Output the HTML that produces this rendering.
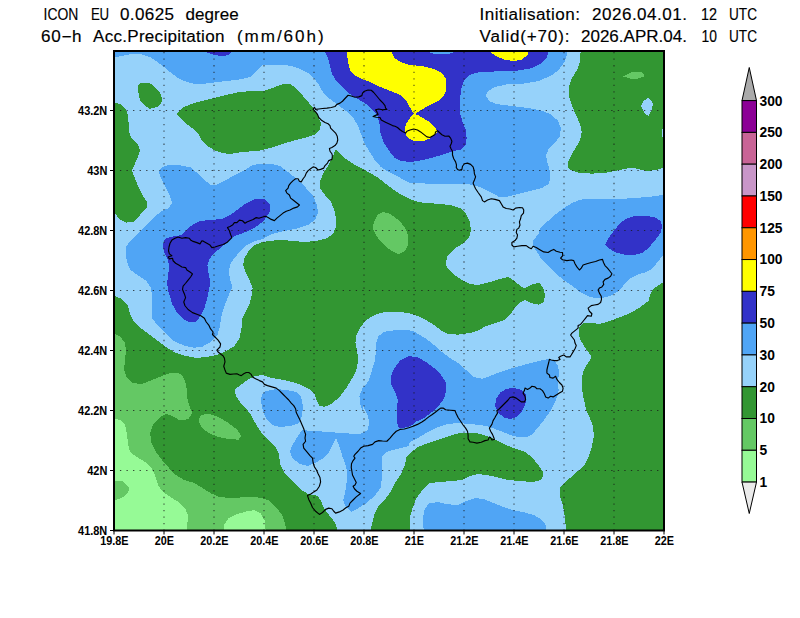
<!DOCTYPE html>
<html><head><meta charset="utf-8"><title>ICON EU precipitation</title>
<style>
html,body{margin:0;padding:0;background:#fff;}
body{width:800px;height:618px;overflow:hidden;font-family:"Liberation Sans",sans-serif;}
svg{display:block;}
text{font-family:"Liberation Sans",sans-serif;fill:#000;}
.t{font-size:15.8px;stroke:#000;stroke-width:0.15px;}
.a{font-size:12.4px;font-weight:bold;}
.c{font-size:13.8px;font-weight:bold;}
</style></head><body>
<svg width="800" height="618" viewBox="0 0 800 618">
<rect width="800" height="618" fill="#fff"/>
<defs><clipPath id="pc"><rect x="114" y="51" width="550" height="479.5"/></clipPath></defs>
<g clip-path="url(#pc)">
<rect x="110" y="45" width="560" height="490" fill="#96d2fa"/>
<g shape-rendering="crispEdges">
<polygon fill="#329632" points="138,86 140,83 149,82.7 155,87 160,93 162.6,99 161,103 157,107 150,108.8 145,106 140,100 138.5,93"/>
<polygon fill="#329632" points="110,102.6 115,102.6 120,104 125,108 127.7,114 128.5,122 129,132 132,139 138,145 140,150 138,157 135,163.5 132,170 134,176 138,186 143,196 147,202 146.5,208 140,215 133,222 126,222.6 119,219 115,213 110,213"/>
<polygon fill="#329632" points="176,114 184,107 194,103 206,100 218.4,97 230.5,94 240.5,91.8 254.6,91 262,91.5 270,89 280,85 286,83.7 291,84.5 297,89 303,96 309,103 314,109 318,116 321,123 320,129 316,134 308,137 296,140 284,143.4 272,147.4 260,150.5 254.6,151 242.5,152 230,154 222,153 214,150 206,145 201,139 198,133 192,128 184,122"/>
<polygon fill="#329632" points="336,149.4 344,157.5 354,164.5 360,167.5 368.4,172 378.5,178 388.5,186 398.5,193 408.6,198.5 416,201.3 422,202.5 436,203.7 450,205 460,208 466,214 469.8,222 471,230 469,238 462,244 454,249 448,255 445.7,262 447,268 453,274 462,280 470,284 478,285 490,282 500,279 508.4,277 514.4,281 520.4,286 524.5,288.5 532.5,284 539.5,283 542.5,287 544,290 545,296 543.5,302 538.5,304.5 530.5,303 524.5,300 519.4,303 514,309 510,315 504,320 496,323 486,326 478,330.6 470,333 458,334.6 448,334 442,331 434,325 426,320 418,316 408.6,313 396.5,311.7 384.5,312 374.5,315 366.4,320 360.4,327 356.4,335 355.4,343 357.4,352 358,362 356.4,370 352.4,378 346.3,388 340.3,396 332.3,403.5 324.3,407 319.2,405.5 316.2,399.5 314.2,393.4 308.2,388.4 300.2,384.4 290,381.4 280,379.4 270,377.5 262.6,375 254.6,376 248.6,379 240.5,385 234.5,390 236.5,397 241.5,404 246,408.5 250.6,414 254.6,422 259.6,430 264,436 268,440 275,446 279,454 280,464 284,472 292,481 300,489 308,494 318,496 321,501 324,508 329,515 335,522.5 339,535 110,535 110,296 115,296 122,299 128,306 130,314 134,322 142,329 150,335 158,341 166,347 176,353 186,356 196.3,358 206.4,357 216.4,355 226.5,351 234.5,346 239.5,338 241.5,328 241.5,320 245.5,312 249.6,304 251.6,296 252.6,288 249.6,280.5 245.5,272 243,265 244.5,258 248.6,251 254.6,245 262.6,242 270,241 278,240 292,240.7 304,242 316,241 326,238.7 333,234 336,227 336,218 334,209 331,202 325,195 320,188 320,181 324,172 328,166"/>
<polygon fill="#329632" points="581,45 580,62 577,70 572,78 569,86 569,96 572,106 576,115 580,124 581.8,132 580,140 576,147.4 571,155.4 568,162.5 567.7,167 570,170 580,173 592,173.6 604,173 614,171 624,169 632,167.6 640,169.6 648,171 656,170 670,166 670,45"/>
<polygon fill="#329632" points="670,281 663,282.5 656.5,286.5 652.4,290 650.4,294 648.4,301 640.4,307 630.4,313 620.3,317 610,321 600,323.8 590,323 583,323 579,327 578.5,334 581,341 586,349 591.8,357 588,363 583.8,370 581.8,378 581.8,386 583,396 585,404.5 586,410 589,416 593,426 593.8,436 592,446 589,456 585,464 578,471 570,478 564,483 560,488 560,496 563,506 565,518 566.5,535 670,535"/>
<polygon fill="#329632" points="369.4,535 372.4,522 374.5,514 378.5,506 384.5,500 390.5,492 394.5,484 400.5,475 404.6,466 406.6,457 412.6,451 418,447 428,443 440,439 452,435 462,432.5 474,432.5 486,435.7 496,440 506,445 516,449 525.5,452 532.5,458 538.5,465 542.5,471 543.5,476 540.5,480 532.5,482 520.4,481 508.4,480 496.3,477 486.3,475 478.3,474 470,476 462,480 452,481 440,482 430,483 426,486 421,492 416,499 412.6,508 409.6,518 409.6,535"/>
<polygon fill="#96d2fa" points="648.4,97.8 652.8,103 652,110 648.4,116 644.4,113 641,106 643.4,101"/>
<polygon fill="#96d2fa" points="661.5,129 666,129 666,137 661.5,137"/>
<polygon fill="#64c864" points="374.5,221 377.5,215 382.5,212 390.5,214 398.5,220 404.6,227 408.2,235.3 408.2,244.3 404.6,251.3 398.5,254.4 390.5,250.3 382.5,243.3 376.5,236.3 372.4,228.2"/>
<polygon fill="#64c864" points="623.3,76.5 632.4,72 641.4,72 644.8,76 638.4,78.5 630.4,78.5"/>
<polygon fill="#64c864" points="198.4,420 201.4,415 208.4,413.6 218.4,417 228.5,423 236.5,429 241.5,436 238.5,439.7 228.5,439 218.4,437 208.4,433 201.4,427"/>
<polygon fill="#64c864" points="110,334 115,334 120,336.6 124.5,342 126,350 125,360 124,370 127,378 132,383 142,384 152,380 162,376 167.75,373.9 172.75,372.75 179,373.1 182.75,376.25 185.25,381.25 186.5,387.5 187.1,397 189,404.5 191,410 192.3,413 188.3,419 180.3,420.5 172.2,416 166.2,413.6 160.2,417 153.2,424 150.2,433 151.2,442 155.2,451 161.2,459 167.2,466 174.3,474 184.3,480 194.3,483 202.4,488 210.4,493 218.4,496.8 230.5,498 242.5,497.4 254.6,496.8 262.6,498.4 268,500 276,507 282,515 285,523 287,535 110,535"/>
<polygon fill="#96fa96" points="110,418.4 115,418.4 120,420 125,425 127,434 128,444 130,452 137,457 145,462 151,467 155,475 158,485 163,492 171,497.4 179,502.4 185,508.4 188.3,515.4 187.3,523.5 187.3,535 110,535"/>
<polygon fill="#64c864" points="110,481 115,481 122,480.7 127,485 129.7,489 126,495 120,498.8 115,500 110,500"/>
<polygon fill="#96fa96" points="223.5,535 224.5,524.5 228.5,518.4 236.5,514.4 246.5,511.4 254.6,510 260.6,513.4 264.6,520.5 266.2,535"/>
<polygon fill="#50a5f5" points="110,45 567.6,45 567.6,52 564.6,62 558.6,70 550.5,76 538.5,81 522.4,83.7 506.4,84.5 494.3,87 487.3,91.8 486,96 489.3,101 496.3,104 510.4,105.8 526.5,107.8 540.5,110.2 550.5,114.3 557.6,120.3 561,128.3 559.6,136.4 554.6,143.4 548.5,149.4 546,155.4 547.5,162.5 549.5,170 550.5,178 548.5,184 542.5,187.7 530.5,191 518.4,194 506.4,197 498.4,196.5 490,192 480,187 470,184.5 450,183.7 430,183.7 410,183 400.5,178 388.5,172 380.5,166.5 374.5,159.5 369,151 364,142 361,134 358,126 354,119 346,111 338,105 330,99 324,94 319,85 314,78 308,73 300,69 292,66 284,65 272,64.5 262,65.5 256.6,71 250.5,77 238.5,79.7 226.5,81 214.4,82.5 204.4,83.7 194,83.7 186,81.7 178,78 170,72 164,67 156,61 150,57 142,54.4 130,54.4 122,56 110,58"/>
<polygon fill="#50a5f5" points="159,172 162,167 168,165 178,165 186,166.5 190,167 196,172 204.4,180 210.4,184.5 216.4,185 224.5,181 234.5,175 246.5,169 252,165.5 260,163.5 270,163.5 280,166 288,172 298,180 306,188 313,196 317,205 318,213 315,220 308,225 296,228.7 284,231 272,234 262.6,239 254.6,241 246.5,245 240.5,251 234.5,258 230.5,264 228.5,272 230.5,280.5 232.5,288 230.5,291 228.5,296 224.5,306 221.4,316 220,326 217.4,335 210.4,342 202.4,346.6 194.3,347.8 184.3,345.8 174,341 166,334 158,326 152,318 151.8,308 152,296 151,288 150,286.5 146,280.5 138,275.4 130,269.4 127,262 125.7,254 126,247 130,241 138,233 146,225 154,217 162,211 169,208 172,203 170,196 166,188 161,178"/>
<polygon fill="#50a5f5" points="540,228 548,221 556,214 564,208 572,203 580,199.7 592,198.5 606,199 620,199 634,198 648,197 670,194 670,250 663,255 658.5,261 652.4,268.4 646.4,272 638.4,274.4 630.4,278.5 624.3,284.5 623,286 619,291 610,296 600,298.5 590,297 580,292 573,286.5 564,280.5 556,273.4 548,265.4 540,257 538.5,254 533,246 533.5,240 538.5,234"/>
<polygon fill="#50a5f5" points="362.4,410 360.4,404.5 359.4,396.4 362.4,388.4 368.4,381.4 371.4,372 374.5,362 376,352 376,344 378.5,336 384.5,331.8 396.5,330 408.6,330 415,331.8 418,334 426,338.6 434,345 442,352 450,358 458,363 466,370 474,377 482,378.8 490,376 500,372 510,368.7 520.4,366 530.5,363 540.5,360.7 548.5,359 554.6,361 558.2,366 559,374 557.6,382 558.6,390 557.6,396 554.6,402.5 551.6,409 547.5,415 542.5,422 537.5,428 532.5,434 526.5,437 518.4,437 510.4,435 500.4,431 490,427 480,425 470,424 458,423 448,424 438,427 428,432 418,438 410,442 408.6,446 396.5,449 386.5,452 382.5,456 381.5,466 382,478 380.5,488 374.5,496 366.4,503 358.4,508 351.4,512 345.3,506 343.3,500 345.3,492 346.7,482 347.3,472 345.3,464 342.3,456 339.3,446 336,438 332,446 328,454 322,459 315,463 308,466 300,464 292,458 290,451 293,444 298,436 302,430 312,431 326,431.7 340.3,433 352.4,433.7 360.4,434 367.4,430 369.4,423 367.4,415 363.4,406"/>
<polygon fill="#50a5f5" points="260.6,400 262.6,394 266,391 276,389 286,390 296,392 301,396 302.6,404 302.6,410 302,416 299,423 290,426 280,427 272,425 266,418 263,411"/>
<polygon fill="#50a5f5" points="424,535 423,520.5 424,510.4 429,503.4 438,502 448,504.4 458,504.8 468,500.4 476,498 484.3,499.4 494.3,503.4 504.4,507.4 514.4,510.4 524.5,512.4 534.5,515.4 541.5,519.5 545.5,524.5 546.5,535"/>
<polygon fill="#3232c8" points="325,45 325,52 328,58 330,66 332,74 337,82 344,89 350,94 358,99 366,104 373,110 377.5,116 379.5,124 380,132 383.5,142 388.5,150 394.5,157.5 400.5,161 410.6,162 420,160.5 430,158.4 440,155.4 450,152 461,149.4 465.8,145 466.6,138 465.8,130 462.6,122 459.8,112 459.8,102 461,90 464,81 469,75 478,72.5 490,71.7 504.4,71 518.4,70.5 530.5,68.5 540.5,64 546.5,58 548.5,52 548.5,45"/>
<polygon fill="#3232c8" points="206,45 206,52 213,54.5 222,56.5 228,55 231,52 231,45"/>
<polygon fill="#3232c8" points="270.4,211 270,205 266,200 262.6,198.5 254.6,199 246.5,203 238.5,209 230.5,215 222.4,219 210.4,220 200.4,221 192.3,225 186.3,230 181.3,235 172.2,236.7 165.2,238.7 162.6,245 164.2,252 167.2,258 169.2,266 168.2,274 167.2,282.5 167.8,290 169.2,294 172.2,304 177.3,313 184.3,319.7 190.3,322.5 196.3,321.7 200.4,316 204.4,308 207.4,298 209.4,288 210,280.5 208.4,272 207.4,265 209.4,259 214.4,253 220.4,248 226.5,243 232.5,237 240.5,234 250.6,230 258.6,225 264.6,220 267,216"/>
<polygon fill="#3232c8" points="605.3,244.7 608.3,238.3 614.3,230.3 620.3,223 626.3,218.6 634.4,216 644.4,215.8 654.5,217 660.5,221 662.5,226 660.5,233 654.5,241 648.4,248 642.4,253 634.4,255 624.3,254.7 614.3,252 608.3,248"/>
<polygon fill="#3232c8" points="436,408 432,412 424,418 416,421.7 412.6,425 407.5,427.3 398.75,428.1 397.5,423.75 396.5,408 398,400 395.5,393 391.5,385 390.5,377 394.5,368 400.5,360 408.6,356 418,357.5 426,362 434,368 441,375 445.7,382 446.5,390 444,398.5 439,405.5"/>
<polygon fill="#3232c8" points="495.3,404.5 496.3,398.5 500.4,392.4 506.4,388.8 514.4,388 521.4,390 525.5,394.4 526.5,400.5 524.5,406.5 521.4,412 516.4,417 510.4,419 504.4,417.6 498.4,413 495.3,407"/>
<polygon fill="#50a5f5" points="428,45 428,52 434,54 448,54 454,52 454,45"/>
<polygon fill="#ffff00" points="346.7,45 346.7,52 348,62 350,70 354,75 362,79 370,82 380.5,87 390,90.8 395.8,93 401.7,95.8 405.5,99.7 408.4,104.6 410.9,109 412.8,112.8 414.2,114 416.2,113.3 421,110 426.9,106.5 432.7,103.6 438.5,100.7 443.4,96.3 446.3,90 446.5,88 446,79 442,73 434,69 422,66 410,65 400.5,62 394.5,58 391.5,52 391.5,45"/>
<polygon fill="#ffff00" points="414,113.2 412.3,114.8 409.4,119 406.5,123 405,127 405,131.7 406.5,135.6 409.4,138.5 413.3,140.5 419,141 425,140.5 429.8,138.5 433.7,135.6 436.6,132.7 437,130.8 435,127.4 431.7,124 427.9,121 423,118 418,115.2 415.4,114"/>
<polygon fill="#ffff00" points="490.3,45 490.3,52 496,56 504,59.6 514,61 522,59.6 527.5,55 528.5,52 528.5,45"/>
</g>
<g stroke="#1a1a1a" stroke-width="1.05" fill="none" opacity="0.8">
<line x1="164" y1="52" x2="164" y2="530" stroke-dasharray="1.3 5.242"/>
<line x1="214" y1="52" x2="214" y2="530" stroke-dasharray="1.3 5.242"/>
<line x1="264" y1="52" x2="264" y2="530" stroke-dasharray="1.3 5.242"/>
<line x1="314" y1="52" x2="314" y2="530" stroke-dasharray="1.3 5.242"/>
<line x1="364" y1="52" x2="364" y2="530" stroke-dasharray="1.3 5.242"/>
<line x1="414" y1="52" x2="414" y2="530" stroke-dasharray="1.3 5.242"/>
<line x1="464" y1="52" x2="464" y2="530" stroke-dasharray="1.3 5.242"/>
<line x1="514" y1="52" x2="514" y2="530" stroke-dasharray="1.3 5.242"/>
<line x1="564" y1="52" x2="564" y2="530" stroke-dasharray="1.3 5.242"/>
<line x1="614" y1="52" x2="614" y2="530" stroke-dasharray="1.3 5.242"/>
<line x1="113.4" y1="470.5" x2="662" y2="470.5" stroke-dasharray="1.3 5.25"/>
<line x1="113.4" y1="410.5" x2="662" y2="410.5" stroke-dasharray="1.3 5.25"/>
<line x1="113.4" y1="350.5" x2="662" y2="350.5" stroke-dasharray="1.3 5.25"/>
<line x1="113.4" y1="290.5" x2="662" y2="290.5" stroke-dasharray="1.3 5.25"/>
<line x1="113.4" y1="230.5" x2="662" y2="230.5" stroke-dasharray="1.3 5.25"/>
<line x1="113.4" y1="170.5" x2="662" y2="170.5" stroke-dasharray="1.3 5.25"/>
<line x1="113.4" y1="110.5" x2="662" y2="110.5" stroke-dasharray="1.3 5.25"/>
</g>
<polygon points="313.75,108.1 314.4,107.25 315.6,109.4 318.75,109 322.5,108.5 326.9,108.1 331.25,107.5 335,106.5 336.9,104.4 340,103.1 342.5,101.25 345,98.5 348.1,95.25 351.25,96 355,97.25 358.75,96.9 361.9,95.6 362.5,93.1 364.4,91.25 368.1,90 371.25,90.25 373.75,92.5 376.9,96.25 380,100 383.1,103.1 385,105.6 385.6,108.1 386.9,109.4 382.5,109.75 378.75,109 375.6,109.75 376.9,111.9 378.1,114.4 375,115.6 373.1,116.5 376.25,117.25 380,117.5 381.25,120 385,121.9 388.75,123.75 392.5,125.6 395,126.25 397.5,127.5 400,129.75 402.5,131.5 405.6,133.1 406.9,131.25 410,130 413.75,129 417.5,130 420.6,131.9 423.75,134.4 426.9,136.9 430,137.5 432.5,136 435,134.4 435.6,131.9 437.5,130.6 439.4,132.5 441.9,134.75 445,136.25 448.75,136 450.6,138.1 451.9,141.25 451.25,143.75 450,146.25 451,148.75 452.5,151.25 452.5,155 453.75,158.75 455.6,161.9 456.5,165 456.25,167.5 457.5,169.4 459.4,170.25 461.9,169.4 462.5,166.25 464.4,163.75 467.5,163.1 470.6,164.4 473.1,166.9 474,170 474.4,173.75 475.6,176.9 474.4,180 473.1,183.1 474.4,186.25 475.6,188.75 478.1,192.5 481.25,196.9 482.5,200.6 484.4,201.9 487.5,200 491.25,198.75 495,199.4 499.4,200.6 501.25,203.75 503.1,206.9 506.25,208.5 510,209 513.1,210 515.6,208.1 519.4,207.5 522.5,207.75 523.75,210 523.5,213.1 521.25,215.6 520.6,218.75 519.4,221.9 520,225 518.75,228.1 516.9,229.4 516.25,232.5 517.5,235 516.9,238.1 515,240.6 511.9,242.5 511.9,245 513.75,246.9 517.5,246.25 521.9,245.6 526.25,245.6 528.75,247.5 531.25,248.75 533.1,246.25 536.25,247.5 539.4,249.4 543.75,251.9 548.1,252.5 551.25,250.6 553.75,249.4 556.25,251.25 560,252.25 562.5,252.5 562.75,255.6 560.6,258.1 562.5,259.75 566.9,260.6 571.25,260 573.75,260.6 575,263.75 576.9,266.9 579.4,270 581.25,268.1 583.1,265 586.9,263.75 591.25,262.5 595.6,261.5 599.4,260 602.5,259.4 603.5,262.5 605,265.6 607.5,268.1 610,271.25 611.9,273.75 610.6,276.25 608.1,278.1 605,279.4 603.1,281.9 603.75,284.4 601.9,286.9 599.4,288.1 598.1,290 599.4,293.1 601.25,296.25 601.5,299.4 600.6,302.5 598.1,304.4 594.4,305 591.25,305.6 588.1,308.1 589.4,311.25 591.9,313.75 591.25,316.25 587.5,315.6 585.6,318.1 583.1,321.25 580.6,324.4 578.1,325.6 578.1,328.1 575,330.6 571.9,333.1 570.6,335 572.5,337.5 574.4,340 575,343.1 576.25,345.6 575,348.75 573.1,351.9 571.25,355 570,356.9 566.25,356.9 563.75,355 560.6,356.25 558.75,357.5 560,359.4 557.5,360.6 554.4,360.6 551.25,360 549.4,359.4 548.75,362.5 547.75,366.25 546.9,370 546.9,373.1 549.4,375 550,377.5 553.1,378.1 555.6,376.25 556.9,379.4 559.4,382.5 561.9,385 563.1,388.1 562.5,391.25 559.4,393.1 556.25,395 553.1,396.9 550.6,396.25 548.1,398.1 545.6,396.9 544.4,393.75 542.5,390.6 540,388.75 536.9,388.75 535,386.9 531.9,386.25 530,388.1 527.5,389.4 525,388.1 524.4,390.6 523.1,393.1 525,396.25 525.6,399.4 524.4,401.9 521.25,401.9 518.75,400 516.25,398.1 513.1,396.9 510,397.5 508.1,400 505.6,402.5 503.1,405 500.6,407.5 498.75,409.4 496.9,410.6 497.5,413.1 495.6,416.25 495,417.5 493.1,420.6 491.9,424.4 489.4,428.1 490.6,431.25 492.5,434.4 493.75,437.5 494.4,439.4 491.9,440 490.6,437.5 489.4,436.9 488.1,440 485,440.6 481.25,442.25 476.9,443.1 473.1,442.25 470,441.9 468.1,438.75 468.1,435 467.5,431.25 465.6,428.1 463.1,425 460.6,421.25 458.1,417.5 456.25,413.75 455,410.6 450.6,410.25 445.6,409.75 443.1,408.1 440.6,408.1 438.1,410 435,412.5 431.9,414.75 428.75,416.9 425.6,419.4 421.9,421.9 417.5,424.4 413.1,426.25 408.75,427.75 404.4,429 400,429.4 396.25,431.25 393.1,434.4 390,438.1 386.9,441.25 382.5,441 378.75,440.6 375,441.9 372.5,444.4 368.1,445.6 363.75,446.25 360.6,448.1 358.1,451.25 355,454.4 353.75,456.25 355,458.1 353.1,460.6 351.5,463.75 351.25,467.5 351.9,471.25 352.5,475 354.4,478.75 356.25,482.5 355,485 353.1,486.25 354.4,488.75 356.9,491.25 360.6,493.5 356.25,496.9 353.1,500 350,503.1 348.75,506.25 346.25,507.5 343.1,510 339.4,511.9 335.6,513.1 333.75,511.25 331.9,508.75 328.75,508.1 325.6,509.4 322.5,512.5 319.4,514.4 315.6,511.25 312.5,507.5 310.6,503.1 308.75,499.4 307.5,495.6 311.25,493.75 313.75,491.9 316.9,490 319.4,486.25 320.6,481.9 320,477.5 318.1,473.75 316.5,470 314.4,466.9 313.1,462.5 312.5,458.1 310,455.6 306.9,451.9 303.75,448.1 303.1,444.4 305.6,441.25 305,438.1 305.6,434.4 304.4,431 303.75,428.75 301.9,424.4 300,420 298.1,416.25 296.25,412.5 295.6,408.75 293.75,405.6 291.25,403.1 288.75,400 285.6,396.9 282.5,393.75 279.4,390.6 276.25,388.1 271.9,386.9 267.5,385.6 264.4,384.4 262.5,381.9 259.4,380.6 255.6,378.75 252.5,376.9 251.25,374.4 248.75,372.5 246.25,372.5 243.75,373.75 241.25,375.6 239.4,375 236.9,373.75 233.75,374 230,374.4 226.25,373.1 225,370 223.75,366.25 225,361.9 224.4,358.1 223,355.8 221.25,354.5 218.1,352 216.9,350.1 220,347 220.6,343.9 218.1,340.1 215,337 212.5,334.5 213.1,332 210.6,328.9 208.75,325.1 206.25,322 204.4,318.25 201.25,316 197.5,314.5 192.5,312.6 188.1,309.5 185,305.75 183.75,302 185.6,297.6 184.4,293.9 182.5,289.5 183.1,286.2 185.6,283.25 188.1,280.1 190.6,277 192.5,273.9 190,272 186.9,270.1 185.6,267.6 181.9,267 178.75,265.1 175.6,263.25 173.1,260.75 172.5,258.25 169.4,258.9 168.1,257 171.9,255.75 169.4,253.9 168.5,250.75 169,247 170,243.25 171.9,240.1 175,238.25 178.1,237 181.9,238.25 185.6,237.6 189.4,238.25 190.6,240.1 193.1,241.4 196.9,242.6 200,243.9 201.9,240.75 203.75,241.4 206.9,243.25 210,245.1 211.9,247.6 215,247 218.75,245.75 223.1,244.5 226.9,242.6 229.4,240.1 231.9,237.6 230.6,234.5 229.4,230.75 227.5,227.6 230,226.4 232.5,225.1 234.4,222.6 236.9,222.6 239.4,220.1 242.5,220.75 245,223.25 246.9,222 250,220.75 253.1,219.5 256.25,217.6 259,218.2 261.9,217.25 265.6,216.25 268.1,217.5 271.25,219.4 274.4,220.6 276.9,218.1 280,215.6 283.1,213.1 286.25,211.25 290,210 293.75,208.1 297.5,206.9 299.4,205 296.25,202.5 293.1,200 290.6,198.1 289.4,195 286.9,193.1 285.6,190.6 288.1,188.1 288.75,185.6 290.6,183.1 293.1,180.6 295.6,178.75 298.1,178.75 299.4,181.25 301.25,181.9 303.1,178.75 305,176.25 306.25,173.1 308.1,170.6 310.6,168.75 313.1,166.9 315.6,167.5 318.1,170 320.6,169.4 323.75,168.1 325,165.6 327.5,163.1 328.75,160.6 331.9,159.4 332.4,156 331.9,153.75 330,151.25 329.4,148.5 331.9,147.5 335,145.6 336.9,143.1 337.75,140 337.25,136.25 335.6,133.1 333.1,130.6 330.6,128.1 330,125.6 328.1,123.75 325,122.5 321.9,120.6 318.75,117.5 317.5,114.4 315.6,111.9 313.1,109.4" fill="none" stroke="#000" stroke-width="1.15" stroke-linejoin="round"/>
</g>
<rect x="114" y="51" width="550" height="479.5" fill="none" stroke="#000" stroke-width="2"/>
<g stroke="#000" stroke-width="1">
<line x1="114" y1="531" x2="114" y2="534.5"/>
<line x1="164" y1="531" x2="164" y2="534.5"/>
<line x1="214" y1="531" x2="214" y2="534.5"/>
<line x1="264" y1="531" x2="264" y2="534.5"/>
<line x1="314" y1="531" x2="314" y2="534.5"/>
<line x1="364" y1="531" x2="364" y2="534.5"/>
<line x1="414" y1="531" x2="414" y2="534.5"/>
<line x1="464" y1="531" x2="464" y2="534.5"/>
<line x1="514" y1="531" x2="514" y2="534.5"/>
<line x1="564" y1="531" x2="564" y2="534.5"/>
<line x1="614" y1="531" x2="614" y2="534.5"/>
<line x1="664" y1="531" x2="664" y2="534.5"/>
<line x1="110" y1="530.5" x2="114" y2="530.5"/>
<line x1="110" y1="470.5" x2="114" y2="470.5"/>
<line x1="110" y1="410.5" x2="114" y2="410.5"/>
<line x1="110" y1="350.5" x2="114" y2="350.5"/>
<line x1="110" y1="290.5" x2="114" y2="290.5"/>
<line x1="110" y1="230.5" x2="114" y2="230.5"/>
<line x1="110" y1="170.5" x2="114" y2="170.5"/>
<line x1="110" y1="110.5" x2="114" y2="110.5"/>
</g>
<text class="a" transform="translate(114.3 544.9) scale(0.875 1)" text-anchor="middle">19.8E</text>
<text class="a" transform="translate(164.3 544.9) scale(0.875 1)" text-anchor="middle">20E</text>
<text class="a" transform="translate(214.3 544.9) scale(0.875 1)" text-anchor="middle">20.2E</text>
<text class="a" transform="translate(264.3 544.9) scale(0.875 1)" text-anchor="middle">20.4E</text>
<text class="a" transform="translate(314.3 544.9) scale(0.875 1)" text-anchor="middle">20.6E</text>
<text class="a" transform="translate(364.3 544.9) scale(0.875 1)" text-anchor="middle">20.8E</text>
<text class="a" transform="translate(414.3 544.9) scale(0.875 1)" text-anchor="middle">21E</text>
<text class="a" transform="translate(464.3 544.9) scale(0.875 1)" text-anchor="middle">21.2E</text>
<text class="a" transform="translate(514.3 544.9) scale(0.875 1)" text-anchor="middle">21.4E</text>
<text class="a" transform="translate(564.3 544.9) scale(0.875 1)" text-anchor="middle">21.6E</text>
<text class="a" transform="translate(614.3 544.9) scale(0.875 1)" text-anchor="middle">21.8E</text>
<text class="a" transform="translate(664.3 544.9) scale(0.875 1)" text-anchor="middle">22E</text>
<text class="a" transform="translate(107.3 535) scale(0.885 1)" text-anchor="end">41.8N</text>
<text class="a" transform="translate(107.3 475) scale(0.885 1)" text-anchor="end">42N</text>
<text class="a" transform="translate(107.3 415) scale(0.885 1)" text-anchor="end">42.2N</text>
<text class="a" transform="translate(107.3 355) scale(0.885 1)" text-anchor="end">42.4N</text>
<text class="a" transform="translate(107.3 295) scale(0.885 1)" text-anchor="end">42.6N</text>
<text class="a" transform="translate(107.3 235) scale(0.885 1)" text-anchor="end">42.8N</text>
<text class="a" transform="translate(107.3 175) scale(0.885 1)" text-anchor="end">43N</text>
<text class="a" transform="translate(107.3 115) scale(0.885 1)" text-anchor="end">43.2N</text>
<text class="t" transform="translate(43.6 20) scale(0.882 1)" x="0" y="0" textLength="39.47" lengthAdjust="spacing">ICON</text>
<text class="t" transform="translate(91 20) scale(0.840 1)" x="0" y="0" textLength="21.43" lengthAdjust="spacing">EU</text>
<text class="t" transform="translate(120 20) scale(1.080 1)" x="0" y="0" textLength="50.00" lengthAdjust="spacing">0.0625</text>
<text class="t" transform="translate(185.6 20) scale(1.078 1)" x="0" y="0" textLength="49.17" lengthAdjust="spacing">degree</text>
<text class="t" transform="translate(41 41.8) scale(1.080 1)" x="0" y="0" textLength="37.59" lengthAdjust="spacing">60&#8722;h</text>
<text class="t" transform="translate(93 41.8) scale(1.080 1)" x="0" y="0" textLength="121.67" lengthAdjust="spacing">Acc.Precipitation</text>
<text class="t" transform="translate(237 41.8) scale(1.080 1)" x="0" y="0" textLength="80.19" lengthAdjust="spacing">(mm/60h)</text>
<text class="t" transform="translate(479.6 20) scale(1.080 1)" x="0" y="0" textLength="92.96" lengthAdjust="spacing">Initialisation:</text>
<text class="t" transform="translate(592 20) scale(1.080 1)" x="0" y="0" textLength="87.96" lengthAdjust="spacing">2026.04.01.</text>
<text class="t" transform="translate(701 20) scale(0.911 1)" x="0" y="0" textLength="17.56" lengthAdjust="spacing">12</text>
<text class="t" transform="translate(729 20) scale(0.863 1)" x="0" y="0" textLength="32.46" lengthAdjust="spacing">UTC</text>
<text class="t" transform="translate(479.6 41.8) scale(1.080 1)" x="0" y="0" textLength="83.15" lengthAdjust="spacing">Valid(+70):</text>
<text class="t" transform="translate(581 41.8) scale(1.078 1)" x="0" y="0" textLength="98.29" lengthAdjust="spacing">2026.APR.04.</text>
<text class="t" transform="translate(701.6 41.8) scale(0.877 1)" x="0" y="0" textLength="17.56" lengthAdjust="spacing">10</text>
<text class="t" transform="translate(729 41.8) scale(0.863 1)" x="0" y="0" textLength="32.46" lengthAdjust="spacing">UTC</text>
<g stroke="#000" stroke-width="1" stroke-linejoin="miter">
<polygon points="742,100.6 749.25,67.5 756.5,100.6" fill="#aaaaaa"/>
<rect x="742" y="100.6" width="14.5" height="31.79" fill="#8c0096"/>
<rect x="742" y="132.39" width="14.5" height="31.79" fill="#c86496"/>
<rect x="742" y="164.18" width="14.5" height="31.79" fill="#c896c8"/>
<rect x="742" y="195.97" width="14.5" height="31.79" fill="#ff0000"/>
<rect x="742" y="227.76" width="14.5" height="31.79" fill="#ff9600"/>
<rect x="742" y="259.55" width="14.5" height="31.79" fill="#ffff00"/>
<rect x="742" y="291.34" width="14.5" height="31.79" fill="#3232c8"/>
<rect x="742" y="323.13" width="14.5" height="31.79" fill="#50a5f5"/>
<rect x="742" y="354.92" width="14.5" height="31.79" fill="#96d2fa"/>
<rect x="742" y="386.71" width="14.5" height="31.79" fill="#329632"/>
<rect x="742" y="418.5" width="14.5" height="31.79" fill="#64c864"/>
<rect x="742" y="450.29" width="14.5" height="31.79" fill="#96fa96"/>
<polygon points="742,482.08 749.25,513.5 756.5,482.08" fill="#ebebeb"/>
</g>
<text class="c" x="759.5" y="105.5">300</text>
<text class="c" x="759.5" y="137.29">250</text>
<text class="c" x="759.5" y="169.08">200</text>
<text class="c" x="759.5" y="200.87">150</text>
<text class="c" x="759.5" y="232.66">125</text>
<text class="c" x="759.5" y="264.45">100</text>
<text class="c" x="759.5" y="296.24">75</text>
<text class="c" x="759.5" y="328.03">50</text>
<text class="c" x="759.5" y="359.82">30</text>
<text class="c" x="759.5" y="391.61">20</text>
<text class="c" x="759.5" y="423.4">10</text>
<text class="c" x="759.5" y="455.19">5</text>
<text class="c" x="759.5" y="486.98">1</text>
</svg>
</body></html>
